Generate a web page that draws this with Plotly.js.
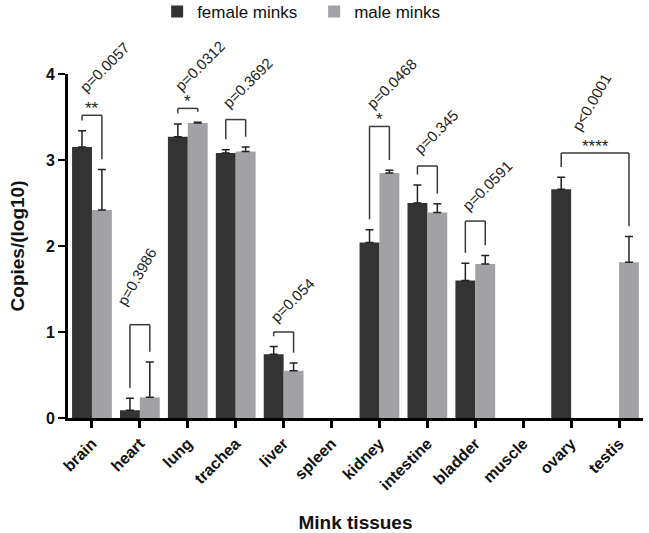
<!DOCTYPE html>
<html><head><meta charset="utf-8">
<script src="https://cdn.plot.ly/plotly-3.0.1.min.js"></script>
<style>html,body{margin:0;padding:0;background:#fff}</style></head>
<body><div id="chart" style="width:649px;height:533px"></div>
<script>
// ---- data ----
const tissues = ['brain','heart','lung','trachea','liver','spleen','kidney','intestine','bladder','muscle','ovary','testis'];
const femaleMean = [3.15, 0.09, 3.27, 3.08, 0.74, null, 2.04, 2.50, 1.60, null, 2.66, null];
const femaleErr  = [0.19, 0.14, 0.15, 0.04, 0.09, null, 0.15, 0.21, 0.20, null, 0.14, null];
const maleMean   = [2.42, 0.24, 3.43, 3.10, 0.55, null, 2.85, 2.39, 1.79, null, null, 1.81];
const maleErr    = [0.47, 0.41, 0.01, 0.05, 0.09, null, 0.03, 0.10, 0.10, null, null, 0.30];

// comparisons (female bar of compFemale vs male bar of compMale)
const compFemale = ['brain','heart','lung','trachea','liver','kidney','intestine','bladder','ovary'];
const compMale   = ['brain','heart','lung','trachea','liver','kidney','intestine','bladder','testis'];
const pLabels    = ['p=0.0057','p=0.3986','p=0.0312','p=0.3692','p=0.054','p=0.0468','p=0.345','p=0.0591','p<0.0001'];
const stars      = ['**','','*','','','*','','','****'];

// ---- styling for brackets ----
const bracketTop = [3.52, 1.085, 3.60, 3.47, 1.00, 3.39, 2.93, 2.29, 3.08];
const pAngle     = [-45, -60, -45, -45, -45, -45, -45, -45, -60];
const pLift      = [17, 14, 12, 6, 4, 12, 6, 4, 17];
const LEG_GAP = 0.12;
const BARGAP = 0.17;
const off = (1 - BARGAP) / 4;
const FONT = 'Liberation Sans, Arial, Helvetica, sans-serif';

const idx = n => tissues.indexOf(n);
const shapes = [], annotations = [];
const lineStyle = {color:'#3a3a3a', width:1.5};
for (let k = 0; k < compFemale.length; k++) {
  const ia = idx(compFemale[k]), ib = idx(compMale[k]);
  const xa = ia - off, xb = ib + off;
  const ya = femaleMean[ia] + femaleErr[ia] + LEG_GAP;
  const yb = maleMean[ib] + maleErr[ib] + LEG_GAP;
  const top = bracketTop[k];
  shapes.push({type:'line', xref:'x', yref:'y', x0:xa, x1:xa, y0:ya, y1:top, line:lineStyle});
  shapes.push({type:'line', xref:'x', yref:'y', x0:xa, x1:xb, y0:top, y1:top, line:lineStyle});
  shapes.push({type:'line', xref:'x', yref:'y', x0:xb, x1:xb, y0:top, y1:yb, line:lineStyle});
  const xc = (xa + xb) / 2;
  annotations.push({x:xc, y:top, xref:'x', yref:'y', text:pLabels[k], showarrow:false,
    textangle:pAngle[k], xanchor:'left', yanchor:'bottom',
    xshift: pAngle[k] === -45 ? -19 : -29, yshift:pLift[k],
    font:{family:FONT, size:15, color:'#222'}});
  if (stars[k]) {
    annotations.push({x:xc, y:top, xref:'x', yref:'y', text:stars[k], showarrow:false,
      xanchor:'center', yanchor:'bottom', yshift:-5,
      font:{family:FONT, size:17, color:'#222'}});
  }
}

const errStyle = {type:'data', symmetric:false, color:'#222', thickness:1.5, width:4};
const traces = [
  {type:'bar', name:'female minks', x:tissues, y:femaleMean,
   marker:{color:'#333333'},
   error_y:Object.assign({array:femaleErr, arrayminus:femaleErr.map(v => v == null ? null : 0)}, errStyle)},
  {type:'bar', name:'male minks', x:tissues, y:maleMean,
   marker:{color:'#a2a2a6'},
   error_y:Object.assign({array:maleErr, arrayminus:maleErr.map(v => v == null ? null : 0)}, errStyle)}
];

const layout = {
  width:649, height:533,
  margin:{l:68, r:6, t:74, b:115, autoexpand:false},
  paper_bgcolor:'#fff', plot_bgcolor:'#fff',
  font:{family:FONT, color:'#111'},
  barmode:'group', bargap:BARGAP, bargroupgap:0,
  showlegend:true,
  legend:{orientation:'h', x:0.155, xanchor:'left', y:1.233, yanchor:'top',
          entrywidth:112, entrywidthmode:'pixels', bgcolor:'rgba(0,0,0,0)',
          font:{family:FONT, size:17, color:'#111'}, traceorder:'normal', itemclick:false},
  xaxis:{type:'category', range:[-0.5, 11.5], showgrid:false, zeroline:false,
         showline:true, linecolor:'#000', linewidth:3,
         ticks:'outside', ticklen:7, tickwidth:3, tickcolor:'#000',
         tickangle:-45, tickfont:{family:FONT, size:16, color:'#111', weight:'bold'},
         title:{text:'<b>Mink tissues</b>', font:{family:FONT, size:19, color:'#111'}, standoff:30}},
  yaxis:{range:[0, 4], tickvals:[0,1,2,3,4], showgrid:false, zeroline:false,
         showline:true, linecolor:'#000', linewidth:3,
         ticks:'outside', ticklen:7, tickwidth:2.5, tickcolor:'#000',
         tickfont:{family:FONT, size:16, color:'#111', weight:'bold'},
         title:{text:'<b>Copies/(log10)</b>', font:{family:FONT, size:19, color:'#111'}, standoff:17}},
  shapes:shapes, annotations:annotations
};
Plotly.newPlot('chart', traces, layout, {displayModeBar:false, staticPlot:true});
</script></body></html>
